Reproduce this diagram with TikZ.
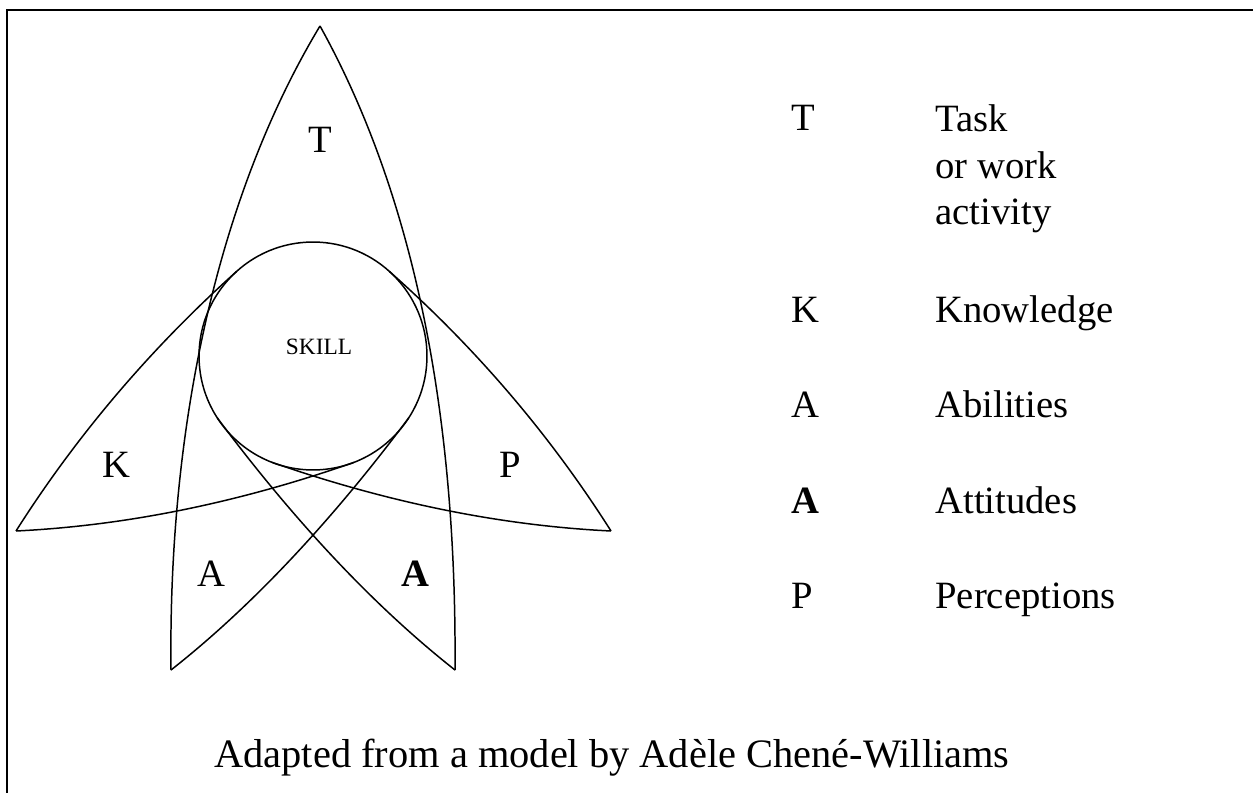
\documentclass[tikz,border=0pt]{standalone}
\usepackage{fontspec}
\setmainfont{Liberation Serif}
\usetikzlibrary{positioning}
\tikzset{
petal/.style={line width=.85pt,draw=black},
frame/.style={line width=1.5pt,draw=black},
ring/.style={circle,draw=black,line width=.85pt,minimum size=4.56cm,inner sep=0pt,outer sep=0pt},
core/.style={font=\fontsize{13.3}{16}\selectfont,inner sep=0pt},
lbl/.style={font=\fontsize{22}{26.5}\selectfont,inner sep=0pt,anchor=base},
key/.style={font=\fontsize{22}{26.5}\selectfont,inner sep=0pt,anchor=base west},
note/.style={font=\fontsize{23}{27}\selectfont,inner sep=0pt,anchor=base}}

\begin{document}
\begin{tikzpicture}[x=0.02cm,y=-0.02cm]
\useasboundingbox (0,0) rectangle (1253,793);
% open frame, top and left only
\draw[frame] (7,793) -- (7,10) -- (1253,10);
% the skill circle
\node[ring] (skill) at (313,356) {};
\node[core] (skilllbl) at (319,347) {SKILL};
% petal tips
\coordinate (ttip) at (320,26);
\coordinate (abl) at (171,670);
\coordinate (abr) at (455,670);
\coordinate (ktip) at (16,531);
\coordinate (ptip) at (611,531);
% T petal, running down into the two A petals
\draw[petal] (ttip) .. controls (220,192) and (168,420) .. (abl);
\draw[petal] (ttip) .. controls (411,190) and (457,405) .. (abr);
\draw[petal] (abl) .. controls (248.6,608.9) and (328.3,525.5) .. (skill.-33);
\draw[petal] (abr) .. controls (377.4,608.9) and (297.7,525.5) .. (skill.213);
% K and P petals
\draw[petal] (ktip) .. controls (75.9,436.6) and (149.5,349.5) .. (skill.132);
\draw[petal] (ptip) .. controls (551.1,436.6) and (477.5,349.5) .. (skill.48);
\draw[petal] (ktip) .. controls (125.3,525.7) and (237.7,503) .. (skill.-69);
\draw[petal] (ptip) .. controls (501.7,525.7) and (389.3,503) .. (skill.-111);
% petal letters
\node[lbl] (lt) at (320,153) {T};
\node[lbl] (lk) at (116,477) {K};
\node[lbl] (lp) at (510,477) {P};
\node[lbl] (lab) at (211,586) {A};
\node[lbl] (lat) at (415,586) {\textbf{A}};
% legend
\node[key] (kt) at (791,131) {T};
\node[key,anchor=north west,align=left] (wt) at (935,104.6) {Task\\or work\\activity};
\node[key] (kk) at (791,323) {K};
\node[key] (wk) at (935,323) {Knowledge};
\node[key] (kab) at (791,418) {A};
\node[key] (wab) at (935,418) {Abilities};
\node[key] (kat) at (791,513) {\textbf{A}};
\node[key] (wat) at (935,513) {Attitudes};
\node[key] (kp) at (791,608) {P};
\node[key] (wp) at (935,608) {Perceptions};
% source
\node[note] (src) at (612,767) {Adapted from a model by Adèle Chené-Williams};
\end{tikzpicture}
\end{document}
